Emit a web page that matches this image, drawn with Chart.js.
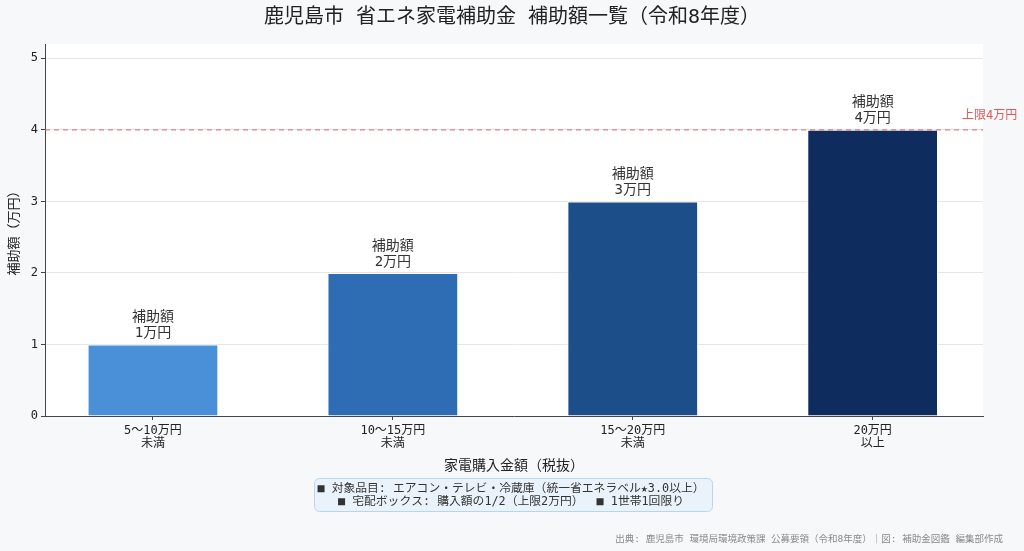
<!DOCTYPE html>
<html lang="ja">
<head>
<meta charset="utf-8">
<script src="https://cdn.jsdelivr.net/npm/chart.js@4"></script>
<style>
  html, body { margin: 0; padding: 0; background: #f7f8fa; }
  #wrap { width: 1024px; height: 551px; position: relative; }
</style>
</head>
<body>
<div id="wrap"><canvas id="chart"></canvas></div>
<script>
const categories = [
  ['5〜10万円', '未満'],
  ['10〜15万円', '未満'],
  ['15〜20万円', '未満'],
  ['20万円', '以上'],
];
const subsidy = [1, 2, 3, 4];
const capValue = 4;
const yTicks = [0, 1, 2, 3, 4, 5];

const titleText = '鹿児島市 省エネ家電補助金 補助額一覧（令和8年度）';
const noteLines = [
  '■ 対象品目: エアコン・テレビ・冷蔵庫（統一省エネラベル★3.0以上）',
  '■ 宅配ボックス: 購入額の1/2（上限2万円）　 ■ 1世帯1回限り',
];
const sourceText = '出典: 鹿児島市 環境局環境政策課 公募要領（令和8年度）｜図: 補助金図鑑 編集部作成';

const FONT = '"DejaVu Sans Mono", "Noto Sans CJK JP", monospace';
Chart.defaults.font.family = FONT;
Chart.defaults.color = '#333';

const decor = {
  id: 'decor',
  beforeDraw(chart) {
    const { ctx, chartArea: a } = chart;
    ctx.save();
    ctx.fillStyle = '#ffffff';
    ctx.fillRect(a.left, a.top, a.right - a.left, a.bottom - a.top);
    ctx.restore();
  },
  afterDatasetsDraw(chart) {
    const { ctx, chartArea: a, scales } = chart;
    const meta = chart.getDatasetMeta(0);
    ctx.save();

    // cap line
    const yc = scales.y.getPixelForValue(capValue);
    ctx.strokeStyle = 'rgba(225, 90, 90, 0.75)';
    ctx.lineWidth = 1.2;
    ctx.setLineDash([5, 4]);
    ctx.beginPath();
    ctx.moveTo(a.left, yc);
    ctx.lineTo(a.right, yc);
    ctx.stroke();
    ctx.setLineDash([]);
    ctx.fillStyle = '#e05a5a';
    ctx.font = `12px ${FONT}`;
    ctx.textAlign = 'left';
    ctx.textBaseline = 'bottom';
    ctx.fillText(`上限${capValue}万円`, a.right - 21, yc - 8);

    // bar labels
    ctx.fillStyle = '#333';
    ctx.font = `14px ${FONT}`;
    ctx.textAlign = 'center';
    meta.data.forEach((bar, i) => {
      ctx.fillText(`${subsidy[i]}万円`, bar.x, bar.y - 4);
      ctx.fillText('補助額', bar.x, bar.y - 20);
    });
    ctx.restore();
  },
  afterDraw(chart) {
    const { ctx } = chart;
    ctx.save();
    ctx.fillStyle = '#222';
    ctx.font = `20px ${FONT}`;
    ctx.textAlign = 'center';
    ctx.textBaseline = 'middle';
    ctx.fillText(titleText, 512, 18);

    // note box
    ctx.beginPath();
    ctx.roundRect(314.5, 478.5, 398, 33, 5);
    ctx.fillStyle = '#eaf3fb';
    ctx.fill();
    ctx.strokeStyle = '#b9d5ee';
    ctx.lineWidth = 1;
    ctx.stroke();
    ctx.fillStyle = '#333';
    ctx.font = `11.8px ${FONT}`;
    ctx.fillText(noteLines[0], 511, 489);
    ctx.fillText(noteLines[1], 511, 502);

    // source
    ctx.fillStyle = '#8a8a8a';
    ctx.font = `9.5px ${FONT}`;
    ctx.textAlign = 'right';
    ctx.fillText(sourceText, 1003, 540);
    ctx.restore();
  },
};

new Chart(document.getElementById('chart'), {
  type: 'bar',
  data: {
    datasets: [
      {
        data: subsidy.map((v, i) => ({ x: i, y: v })),
        backgroundColor: ['#4a90d9', '#2e6db4', '#1c4f8a', '#0e2d5e'],
        borderColor: '#ffffff',
        borderWidth: 1,
        borderSkipped: 'bottom',
        categoryPercentage: 1,
        barPercentage: 0.545,
      },
    ],
  },
  options: {
    responsive: true,
    maintainAspectRatio: false,
    animation: false,
    devicePixelRatio: 1,
    layout: { padding: { top: 44, right: 41, bottom: 75, left: 0 } },
    plugins: {
      legend: { display: false },
      tooltip: { enabled: false },
    },
    scales: {
      x: {
        type: 'linear',
        offset: false,
        min: -0.45,
        max: 3.46,
        afterBuildTicks(scale) {
          scale.ticks = categories.map((c, i) => ({ value: i }));
        },
        afterFit(scale) {
          scale.height = 60;
        },
        ticks: {
          callback: (value) => categories[value],
          font: { size: 12, lineHeight: 1.1 },
          color: '#222',
          padding: 4,
          maxRotation: 0,
          autoSkip: false,
        },
        grid: {
          offset: false,
          color: 'rgba(0,0,0,0)',
          tickColor: '#444',
          tickLength: 4,
        },
        border: { color: '#444', width: 1 },
        title: {
          display: true,
          text: '家電購入金額（税抜）',
          font: { size: 14 },
          color: '#222',
          padding: { top: 0, bottom: 1 },
        },
      },
      y: {
        min: 0,
        max: 5.2,
        afterBuildTicks(scale) {
          scale.ticks = yTicks.map((v) => ({ value: v }));
        },
        afterFit(scale) {
          scale.width = 45;
        },
        ticks: {
          font: { size: 12 },
          color: '#222',
          padding: 3,
        },
        grid: {
          color: '#e6e6e6',
          tickColor: '#444',
          tickLength: 4,
        },
        border: { color: '#444', width: 1 },
        title: {
          display: true,
          text: '補助額（万円）',
          font: { size: 13 },
          color: '#222',
          padding: { top: 7, bottom: 0 },
        },
      },
    },
  },
  plugins: [decor],
});
</script>
</body>
</html>
